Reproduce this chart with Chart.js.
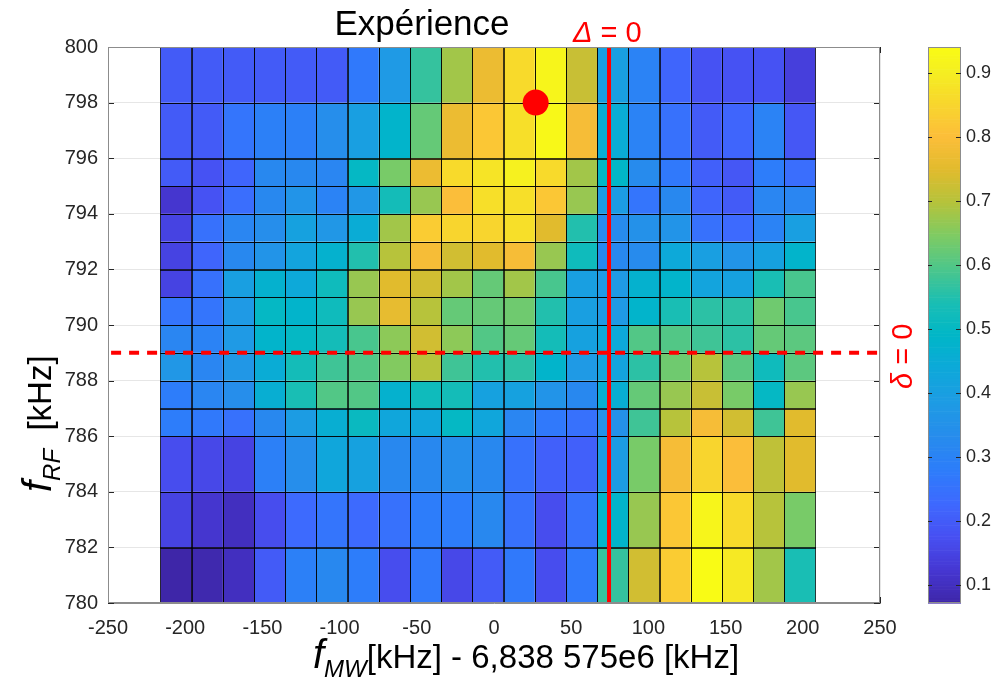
<!DOCTYPE html>
<html>
<head>
<meta charset="utf-8">
<script src="https://cdn.jsdelivr.net/npm/chart.js@4.4.1/dist/chart.umd.min.js"></script>
<style>
  html, body { margin: 0; padding: 0; background: #fff; }
  #wrap { width: 991px; height: 679px; position: relative; }
</style>
</head>
<body>
<div id="wrap"><canvas id="heat"></canvas></div>
<script>
// cell edges along f_MW (kHz, offset from 6,838 575e6 kHz)
const xEdges = [-216, -195.8, -175.6, -155.4, -135.2, -115, -94.8, -74.6, -54.4, -34.2, -14,
                6.2, 26.4, 46.6, 66.8, 87, 107.2, 127.4, 147.6, 167.8, 188, 208.2];
// cell edges along f_RF (kHz), bottom to top
const yEdges = [780, 782, 784, 786, 787, 788, 789, 790, 791, 792, 793, 794, 795, 796, 798, 800];

// measured signal, one row per f_RF band, bottom (780) to top (800)
const z = [
  [0.072, 0.08, 0.10, 0.20, 0.29, 0.32, 0.28, 0.17, 0.27, 0.16, 0.20, 0.27, 0.17, 0.27, 0.57, 0.73, 0.83, 0.94, 0.89, 0.68, 0.54],
  [0.15, 0.12, 0.10, 0.17, 0.23, 0.26, 0.23, 0.25, 0.28, 0.28, 0.32, 0.25, 0.17, 0.25, 0.48, 0.67, 0.82, 0.92, 0.86, 0.70, 0.64],
  [0.17, 0.16, 0.15, 0.29, 0.34, 0.43, 0.41, 0.32, 0.32, 0.34, 0.32, 0.25, 0.21, 0.21, 0.39, 0.64, 0.79, 0.85, 0.80, 0.71, 0.75],
  [0.28, 0.27, 0.25, 0.32, 0.39, 0.46, 0.51, 0.43, 0.43, 0.50, 0.43, 0.31, 0.27, 0.25, 0.35, 0.58, 0.70, 0.79, 0.73, 0.58, 0.75],
  [0.28, 0.31, 0.34, 0.46, 0.54, 0.60, 0.60, 0.47, 0.52, 0.53, 0.41, 0.41, 0.36, 0.32, 0.46, 0.62, 0.67, 0.72, 0.64, 0.50, 0.67],
  [0.37, 0.31, 0.37, 0.45, 0.53, 0.58, 0.60, 0.65, 0.70, 0.58, 0.55, 0.56, 0.48, 0.38, 0.42, 0.56, 0.63, 0.70, 0.61, 0.52, 0.61],
  [0.31, 0.30, 0.38, 0.48, 0.50, 0.53, 0.59, 0.66, 0.73, 0.66, 0.60, 0.62, 0.53, 0.41, 0.44, 0.60, 0.60, 0.58, 0.56, 0.62, 0.61],
  [0.26, 0.26, 0.38, 0.50, 0.48, 0.52, 0.67, 0.76, 0.70, 0.62, 0.62, 0.63, 0.55, 0.40, 0.38, 0.48, 0.54, 0.56, 0.56, 0.63, 0.59],
  [0.15, 0.25, 0.40, 0.47, 0.44, 0.52, 0.67, 0.75, 0.73, 0.68, 0.62, 0.68, 0.59, 0.40, 0.38, 0.47, 0.48, 0.42, 0.41, 0.54, 0.59],
  [0.15, 0.22, 0.32, 0.36, 0.42, 0.47, 0.55, 0.70, 0.79, 0.73, 0.75, 0.79, 0.67, 0.52, 0.32, 0.33, 0.44, 0.40, 0.36, 0.41, 0.48],
  [0.15, 0.25, 0.31, 0.34, 0.41, 0.37, 0.45, 0.68, 0.83, 0.85, 0.85, 0.87, 0.75, 0.55, 0.33, 0.35, 0.36, 0.25, 0.23, 0.30, 0.40],
  [0.12, 0.18, 0.24, 0.32, 0.36, 0.30, 0.37, 0.53, 0.67, 0.80, 0.87, 0.87, 0.82, 0.67, 0.39, 0.26, 0.32, 0.22, 0.20, 0.31, 0.31],
  [0.20, 0.18, 0.22, 0.32, 0.32, 0.31, 0.50, 0.64, 0.77, 0.86, 0.88, 0.91, 0.86, 0.68, 0.49, 0.33, 0.27, 0.21, 0.19, 0.28, 0.24],
  [0.20, 0.20, 0.26, 0.29, 0.29, 0.34, 0.40, 0.48, 0.62, 0.77, 0.82, 0.87, 0.93, 0.79, 0.45, 0.30, 0.25, 0.20, 0.22, 0.30, 0.19],
  [0.20, 0.20, 0.20, 0.20, 0.20, 0.20, 0.27, 0.38, 0.57, 0.68, 0.77, 0.86, 0.92, 0.72, 0.40, 0.30, 0.22, 0.18, 0.18, 0.18, 0.14]
];

const xTicks = [-250, -200, -150, -100, -50, 0, 50, 100, 150, 200, 250];
const yTicks = [780, 782, 784, 786, 788, 790, 792, 794, 796, 798, 800];
const cbTicks = [0.1, 0.2, 0.3, 0.4, 0.5, 0.6, 0.7, 0.8, 0.9];
const zMin = 0.072, zMax = 0.94;

// markers
const deltaMW = 74.5;   // Δ = 0
const deltaRF = 789;    // δ = 0
const spot = { x: 27, y: 798 };

// parula-like colormap
const stops = [
  [0.00, 62, 38, 168], [0.06, 70, 55, 210], [0.12, 71, 80, 242], [0.18, 62, 105, 254],
  [0.24, 45, 125, 250], [0.30, 39, 140, 236], [0.36, 30, 155, 228], [0.42, 14, 168, 218],
  [0.48, 0, 182, 200], [0.54, 25, 190, 180], [0.60, 75, 198, 140], [0.66, 125, 203, 100],
  [0.72, 180, 195, 60], [0.78, 225, 187, 45], [0.84, 252, 190, 58], [0.90, 248, 215, 45],
  [0.96, 245, 240, 32], [1.00, 249, 251, 21]
];
function cmap(v) {
  let t = (v - zMin) / (zMax - zMin);
  t = Math.max(0, Math.min(1, t));
  for (let i = 1; i < stops.length; i++) {
    if (t <= stops[i][0]) {
      const a = stops[i - 1], b = stops[i];
      const f = (t - a[0]) / (b[0] - a[0]);
      const c = [1, 2, 3].map(k => Math.round(a[k] + (b[k] - a[k]) * f));
      return 'rgb(' + c.join(',') + ')';
    }
  }
  return 'rgb(249,251,21)';
}

const FONT = "'Liberation Sans', Arial, sans-serif";
const INK = '#262626';

// draws the inward ticks and the cells under the datasets
const heatmap = {
  id: 'heatmap',
  beforeDatasetsDraw(chart) {
    const { ctx, chartArea: a, scales: { x, y } } = chart;
    ctx.save();

    // small inward ticks on all four sides
    ctx.strokeStyle = INK;
    ctx.lineWidth = 1;
    ctx.beginPath();
    xTicks.forEach(v => {
      const p = Math.round(x.getPixelForValue(v)) + 0.5;
      ctx.moveTo(p, a.bottom); ctx.lineTo(p, a.bottom - 6);
      ctx.moveTo(p, a.top); ctx.lineTo(p, a.top + 6);
    });
    yTicks.forEach(v => {
      const p = Math.round(y.getPixelForValue(v)) + 0.5;
      ctx.moveTo(a.left, p); ctx.lineTo(a.left + 6, p);
      ctx.moveTo(a.right, p); ctx.lineTo(a.right - 6, p);
    });
    ctx.stroke();

    ctx.beginPath();
    ctx.rect(a.left, a.top, a.width, a.height);
    ctx.clip();
    for (let r = 0; r < z.length; r++) {
      const y0 = y.getPixelForValue(yEdges[r]), y1 = y.getPixelForValue(yEdges[r + 1]);
      for (let c = 0; c < z[r].length; c++) {
        const x0 = x.getPixelForValue(xEdges[c]), x1 = x.getPixelForValue(xEdges[c + 1]);
        ctx.fillStyle = cmap(z[r][c]);
        ctx.fillRect(x0, y1, x1 - x0, y0 - y1);
      }
    }
    ctx.strokeStyle = 'rgba(0,0,0,0.75)';
    for (let r = 0; r < z.length; r++) {
      const y0 = y.getPixelForValue(yEdges[r]), y1 = y.getPixelForValue(yEdges[r + 1]);
      for (let c = 0; c < z[r].length; c++) {
        const x0 = x.getPixelForValue(xEdges[c]), x1 = x.getPixelForValue(xEdges[c + 1]);
        ctx.strokeRect(Math.round(x0) + 0.5, Math.round(y1) + 0.5, Math.round(x1 - x0), Math.round(y0 - y1));
      }
    }
    ctx.restore();
  }
};

// writes a run of [text, font, dy, gap] pieces from (x, y)
function rich(ctx, parts, x, y, color) {
  ctx.fillStyle = color;
  ctx.textBaseline = 'alphabetic';
  ctx.textAlign = 'left';
  let cx = x;
  parts.forEach(([txt, font, dy, gap]) => {
    ctx.font = font;
    ctx.fillText(txt, cx, y + (dy || 0));
    cx += ctx.measureText(txt).width + (gap || 0);
  });
}

const decorations = {
  id: 'decorations',
  afterDraw(chart) {
    const { ctx, chartArea, scales: { c } } = chart;
    ctx.save();

    // frame
    ctx.strokeStyle = '#8c8c8c';
    ctx.lineWidth = 1;
    ctx.strokeRect(chartArea.left + 0.5, chartArea.top + 0.5, chartArea.width - 1, chartArea.height - 1);

    // colour bar
    const bx = 928, bw = 33;
    const steps = 200;
    for (let i = 0; i < steps; i++) {
      const v0 = zMin + (zMax - zMin) * i / steps, v1 = zMin + (zMax - zMin) * (i + 1) / steps;
      const p0 = c.getPixelForValue(v0), p1 = c.getPixelForValue(v1);
      ctx.fillStyle = cmap((v0 + v1) / 2);
      ctx.fillRect(bx, p1, bw, p0 - p1 + 0.6);
    }
    ctx.strokeStyle = '#8c8c8c';
    ctx.strokeRect(bx + 0.5, c.top + 0.5, bw - 1, c.bottom - c.top - 1);
    ctx.strokeStyle = INK;
    cbTicks.forEach(v => {
      const p = Math.round(c.getPixelForValue(v)) + 0.5;
      ctx.beginPath();
      ctx.moveTo(bx + bw - 5, p); ctx.lineTo(bx + bw, p);
      ctx.moveTo(bx, p); ctx.lineTo(bx + 4, p);
      ctx.stroke();
    });

    // title
    ctx.fillStyle = '#000';
    ctx.font = '35px ' + FONT;
    ctx.textAlign = 'center';
    ctx.textBaseline = 'alphabetic';
    ctx.fillText('Expérience', 422, 35);

    // Δ = 0 label
    rich(ctx, [['Δ', 'italic 29px ' + FONT, 0, 0], [' = 0', '29px ' + FONT, 0, 0]], 573, 42, '#ff0000');

    // δ = 0 label, rotated
    ctx.save();
    ctx.translate(912, 389);
    ctx.rotate(-Math.PI / 2);
    rich(ctx, [['δ', 'italic 29px ' + FONT, 0, 0], [' = 0', '29px ' + FONT, 0, 0]], 0, 0, '#ff0000');
    ctx.restore();

    // x title
    rich(ctx, [
      ['f', 'italic 40px ' + FONT, 0, 0],
      ['MW', 'italic 24px ' + FONT, 9, 0],
      ['[kHz] - 6,838 575e6 [kHz]', '33px ' + FONT, 0, 0]
    ], 313, 668, '#000');

    // y title, rotated
    ctx.save();
    ctx.translate(51, 492);
    ctx.rotate(-Math.PI / 2);
    rich(ctx, [
      ['f', 'italic 40px ' + FONT, 0, 0],
      ['RF', 'italic 24px ' + FONT, 9, 0],
      ['  [kHz]', '33px ' + FONT, 0, 0]
    ], 0, 0, '#000');
    ctx.restore();

    ctx.restore();
  }
};

new Chart(document.getElementById('heat'), {
  type: 'scatter',
  data: {
    datasets: [
      {
        data: [spot],
        pointRadius: 13,
        pointHoverRadius: 13,
        backgroundColor: '#ff0000',
        borderWidth: 0
      },
      {
        data: [{ x: deltaMW, y: 780 }, { x: deltaMW, y: 800 }],
        showLine: true,
        borderColor: '#ff0000',
        borderWidth: 4,
        pointRadius: 0
      },
      {
        data: [{ x: -248, y: deltaRF }, { x: 250, y: deltaRF }],
        showLine: true,
        borderColor: '#ff0000',
        borderWidth: 4,
        borderDash: [10, 8],
        pointRadius: 0
      }
    ]
  },
  plugins: [heatmap, decorations],
  options: {
    responsive: true,
    maintainAspectRatio: false,
    animation: false,
    layout: { padding: { top: 47, left: 0, right: 0, bottom: 0 } },
    plugins: {
      legend: { display: false },
      tooltip: { enabled: false }
    },
    scales: {
      x: {
        type: 'linear',
        min: -250,
        max: 250,
        afterBuildTicks: s => { s.ticks = xTicks.map(v => ({ value: v })); },
        afterFit: s => { s.height = 76; s.paddingLeft = 0; s.paddingRight = 0; },
        grid: { color: '#e6e6e6', drawTicks: false },
        border: { color: '#8c8c8c' },
        ticks: { color: INK, font: { family: FONT, size: 20 }, padding: 13, maxRotation: 0 }
      },
      y: {
        type: 'linear',
        min: 780,
        max: 800,
        afterBuildTicks: s => { s.ticks = yTicks.map(v => ({ value: v })); },
        afterFit: s => { s.width = 108; s.paddingTop = 0; s.paddingBottom = 0; },
        grid: { color: '#e6e6e6', drawTicks: false },
        border: { color: '#8c8c8c' },
        ticks: { color: INK, font: { family: FONT, size: 20 }, padding: 10 }
      },
      c: {
        axis: 'y',
        type: 'linear',
        position: 'right',
        min: zMin,
        max: zMax,
        afterBuildTicks: s => { s.ticks = cbTicks.map(v => ({ value: v })); },
        afterFit: s => { s.width = 111; s.paddingTop = 0; s.paddingBottom = 0; },
        grid: { display: false, drawTicks: false },
        border: { display: false },
        ticks: { color: INK, font: { family: FONT, size: 18 }, padding: 86, callback: v => v.toFixed(1) }
      }
    }
  }
});
</script>
</body>
</html>
